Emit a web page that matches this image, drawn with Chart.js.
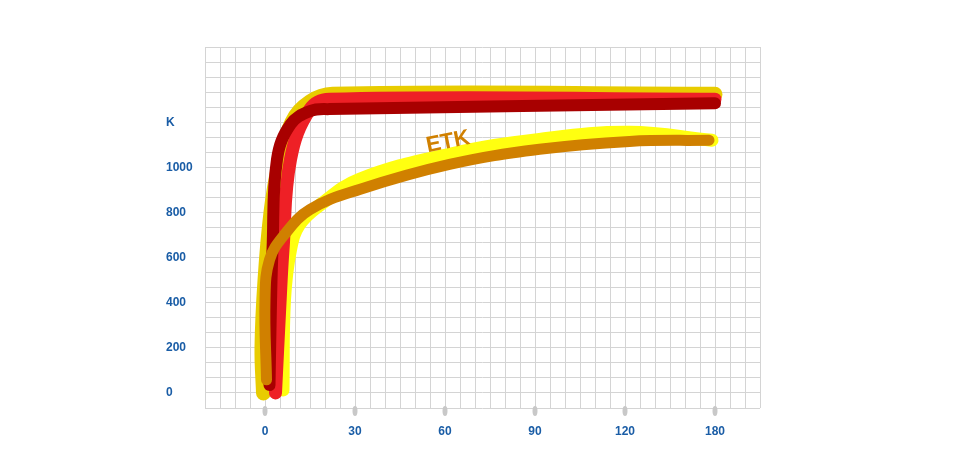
<!DOCTYPE html>
<html><head><meta charset="utf-8">
<script src="https://cdn.jsdelivr.net/npm/chart.js@4/dist/chart.umd.min.js"></script>
<style>html,body{margin:0;background:#fff}#wrap{width:960px;height:450px}</style>
</head><body><div id="wrap"><canvas id="c"></canvas></div>
<script>
// x positions are in grid cells: each labelled step (0,30,60,90,120,180) spans 6 cells
var X_LABELS = ['0', '30', '60', '90', '120', '180'];
var Y_LABELS = { 0:'0', 200:'200', 400:'400', 600:'600', 800:'800', 1000:'1000', 1200:'K' };

var goldX   = [-0.1, -0.2, 0, 0.4, 0.9, 1.8, 3, 4.5, 30];
var goldY   = [0, 200, 500, 800, 1000, 1200, 1290, 1324, 1324];
var redX    = [0.7, 1.0, 1.2, 1.7, 3, 4.3, 30];
var redY    = [0, 400, 635, 1035, 1258, 1302, 1302];
var darkX   = [0.3, 0.4, 0.5, 0.8, 1.7, 3, 4.3, 30];
var darkY   = [35, 400, 635, 1035, 1190, 1249, 1258, 1284];
var yelX    = [1.2, 1.3, 1.7, 2.3, 3.7, 6.3, 12.3, 18.3, 24.3, 29.8];
var yelY    = [13, 413, 635, 747, 835, 947, 1058, 1124, 1155, 1120];
var brownX  = [0.1, 0, 0.3, 1.3, 3, 6.3, 12.3, 18.3, 24.3, 29.6];
var brownY  = [58, 413, 590, 702, 813, 902, 1013, 1080, 1115, 1120];

function pts(xs, ys) { return xs.map(function(x, i) { return { x:x, y:ys[i] }; }); }
function line(data, color, w, order) {
  return { data:data, borderColor:color, borderWidth:w, pointRadius:0, tension:0.4,
           borderCapStyle:'round', borderJoinStyle:'round', fill:false, order:order };
}

var extras = {
  id:'extras',
  afterDraw: function(chart) {
    var c = chart.ctx, xs = chart.scales.x;
    c.save();
    c.fillStyle = '#c8c8c8';
    X_LABELS.forEach(function(l, i) {
      c.beginPath(); c.ellipse(xs.getPixelForValue(i * 6), 411, 2.5, 5, 0, 0, Math.PI * 2); c.fill();
    });
    c.translate(448, 142); c.rotate(-0.2);
    c.fillStyle = '#d08000'; c.font = 'bold 22px "Liberation Sans", Arial, sans-serif';
    c.textAlign = 'center'; c.textBaseline = 'middle';
    c.fillText('ETK', 0, 0);
    c.restore();
  }
};

var FONT = { family:'"Liberation Sans", Arial, sans-serif', size:12, weight:'bold' };
new Chart(document.getElementById('c'), {
  type:'line',
  data:{ datasets:[
    line(pts(goldX, goldY), '#e8cc00', 15, 5),
    line(pts(yelX, yelY), '#ffff10', 13, 4),
    line(pts(redX, redY), '#ee2026', 13, 3),
    line(pts(darkX, darkY), '#a80000', 12, 2),
    line(pts(brownX, brownY), '#d08000', 11, 1)
  ]},
  options:{
    responsive:true, maintainAspectRatio:false, animation:false,
    layout:{ padding:{ left:166, right:200, top:47, bottom:0 } },
    plugins:{ legend:{ display:false }, tooltip:{ enabled:false } },
    scales:{
      x:{ type:'linear', min:-4, max:33,
          afterBuildTicks:function(s) { var t = []; for (var v = -4; v <= 33; v++) t.push({ value:v }); s.ticks = t; },
          afterFit:function(s) { s.height = 42; },
          grid:{ color:'#d4d4d4', drawTicks:false }, border:{ display:false },
          ticks:{ autoSkip:false, maxRotation:0, padding:16, color:'#1a5da6', font:FONT,
                  callback:function(v) { return (v % 6 === 0 && v >= 0 && v / 6 < X_LABELS.length) ? X_LABELS[v / 6] : ''; } } },
      y:{ type:'linear', min:-200 / 3, max:4600 / 3,
          afterBuildTicks:function(s) { var t = []; for (var i = -1; i <= 23; i++) t.push({ value:i * 200 / 3 }); s.ticks = t; },
          afterFit:function(s) { s.width = 39; },
          grid:{ color:'#d4d4d4', drawTicks:false }, border:{ display:false },
          ticks:{ autoSkip:false, crossAlign:'far', padding:6, color:'#1a5da6', font:FONT,
                  callback:function(v) { var k = Math.round(v); return (Math.abs(v - k) < 0.01 && Y_LABELS[k] !== undefined) ? Y_LABELS[k] : ''; } } }
    }
  },
  plugins:[extras]
});
</script></body></html>
